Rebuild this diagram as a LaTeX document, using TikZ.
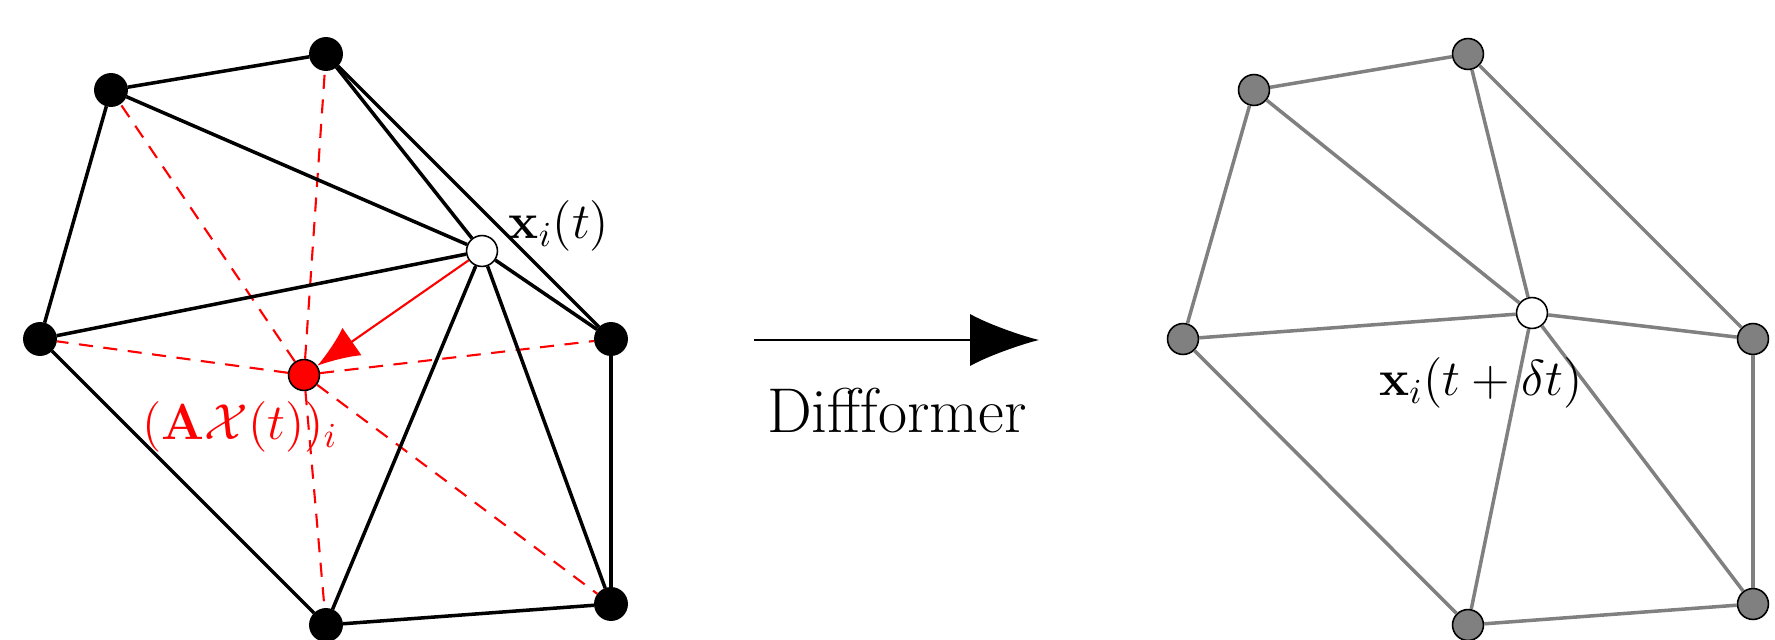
\documentclass[tikz,border=0pt]{standalone}
\usetikzlibrary{arrows.meta}
\begin{document}
\begin{tikzpicture}[x=0.1mm,y=-0.1mm,
  vtx/.style={circle,draw=black,line width=0.45pt,inner sep=0pt,minimum size=8.8pt},
  blk/.style={vtx,fill=black,minimum size=9.2pt},
  wht/.style={vtx,fill=white},
  redv/.style={vtx,fill=red},
  gry/.style={vtx,fill=gray},
  bedge/.style={line width=1pt,black},
  gedge/.style={line width=1pt,gray},
  rdash/.style={red,line width=0.6pt,dash pattern=on 4pt off 3pt},
  lbl/.style={font=\fontsize{14.4}{17}\selectfont,inner sep=0pt},
]
\useasboundingbox (0,0) rectangle (1775,640);
% left graph
\node[blk] (A) at (111,90) {};
\node[blk] (B) at (326,54) {};
\node[blk] (C) at (40,339) {};
\node[wht] (D) at (482,251) {};
\node[blk] (E) at (611,339) {};
\node[redv] (F) at (304,375) {};
\node[blk] (G) at (326,625) {};
\node[blk] (H) at (611,604) {};
\foreach \n in {A,B,C,E,G,H} \draw[rdash] (F) -- (\n);
\foreach \a/\b in {A/B,A/C,A/D,B/D,B/E,C/D,C/G,D/E,D/G,D/H,E/H,G/H}
  \draw[bedge] (\a) -- (\b);
\draw[red,line width=0.6pt,-{Latex[length=12pt,width=9.5pt]}] (D) -- (F);
\node[lbl] (lx) at (559,226) {$\mathbf{x}_i(t)$};
\node[lbl,text=red] (lax) at (240,427) {$(\mathbf{A}\mathcal{X}(t))_i$};
% arrow
\coordinate (p1) at (754,340);
\coordinate (p2) at (1039,340);
\draw[line width=0.55pt,-{Latex[length=19.6pt,width=14.8pt]}] (p1) -- (p2);
\node[font=\fontsize{18}{21}\selectfont,inner sep=0pt] (diff) at (897,411) {Diffformer};
% right graph
\node[gry] (A2) at (1254,90) {};
\node[gry] (B2) at (1468,54) {};
\node[gry] (C2) at (1183,339) {};
\node[wht] (D2) at (1532,313) {};
\node[gry] (E2) at (1753,339) {};
\node[gry] (G2) at (1468,625) {};
\node[gry] (H2) at (1753,604) {};
\foreach \a/\b in {A2/B2,A2/C2,A2/D2,B2/D2,B2/E2,C2/D2,C2/G2,D2/E2,D2/G2,D2/H2,E2/H2,G2/H2}
  \draw[gedge] (\a) -- (\b);
\node[lbl] (lx2) at (1481,383) {$\mathbf{x}_i(t+\delta t)$};
\end{tikzpicture}
\end{document}
